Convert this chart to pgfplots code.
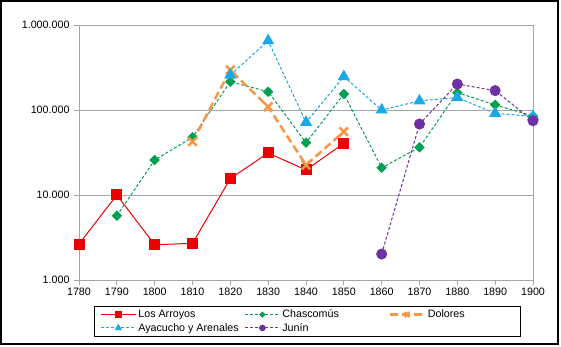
\documentclass[border=0pt]{standalone}
\usepackage{pgfplots}
\pgfplotsset{compat=1.18}
\usepackage{fontspec}
\setmainfont{Liberation Sans}
\definecolor{cred}{HTML}{EE0000}
\definecolor{cgreen}{HTML}{00A050}
\definecolor{corange}{HTML}{F79646}
\definecolor{cblue}{HTML}{1AA8E6}
\definecolor{cpurple}{HTML}{7030A0}
\definecolor{cgrid}{HTML}{A6A6A6}
\newcommand{\legtxt}[1]{\makebox[101pt][l]{#1}}
\begin{document}
\begin{tikzpicture}[x=1pt,y=1pt]
\path (0,0) rectangle (561,347);
\draw[line width=1.5pt] (1,3) rectangle (558,346);
\begin{axis}[
  at={(79pt,67pt)}, anchor=south west,
  scale only axis, width=454pt, height=255pt,
  ymode=log, ymin=1000, ymax=1000000,
  xmin=1780, xmax=1900,
  xtick={1780,1790,...,1900},
  xticklabels={1780,1790,1800,1810,1820,1830,1840,1850,1860,1870,1880,1890,1900},
  ytick={1000,10000,100000,1000000},
  yticklabels={1.000,10.000,100.000,1.000.000},
  minor ytick={}, 
  log basis y=10,
  ymajorgrids, grid style={cgrid, line width=0.8pt},
  axis line style={cgrid, line width=0.8pt},
  tick style={cgrid, line width=0.8pt},
  tick align=outside, tick pos=left, major tick length=5pt,
  ticklabel style={font=\fontsize{10.7}{12}\selectfont, text=black},
  yticklabel style={xshift=-1pt},
  legend columns=3,
  legend style={at={(0.0242,-0.102)}, anchor=north west, xshift=4pt, draw=black, line width=0.8pt,
    font=\fontsize{10.7}{12}\selectfont, inner xsep=6pt, inner ysep=1.5pt, row sep=0pt,
    /tikz/every even column/.append style={column sep=3pt}},
  legend image code/.code={\draw[mark repeat=2,mark phase=2,#1,every mark/.append style={scale=0.55}] plot coordinates {(0pt,0pt) (17.5pt,0pt) (35pt,0pt)};},
]
\addplot[cred, line width=1pt, mark=square*, mark size=5pt, mark options={solid}] coordinates {
(1780,2650)(1790,10000)(1800,2600)(1810,2700)(1820,15600)(1830,31200)(1840,19700)(1850,40500)};
\addlegendentry{\legtxt{Los Arroyos}}
\addplot[cgreen, line width=1pt, dash pattern=on 3pt off 2pt, mark=square*, mark size=3.2pt, mark options={solid, rotate=45}] coordinates {
(1790,5700)(1800,25800)(1810,47700)(1820,215000)(1830,164000)(1840,41200)(1850,154000)(1860,20900)(1870,36400)(1880,160000)(1890,115000)(1900,85000)};
\addlegendentry{\legtxt{Chascomús}}
\addplot[corange, line width=2.5pt, dash pattern=on 8pt off 4pt, mark=x, mark size=6pt, mark options={solid, line width=2.5pt}] coordinates {
(1810,42400)(1820,295000)(1830,109000)(1840,22500)(1850,55600)};
\addlegendentry{\makebox[85pt][l]{Dolores}}
\addplot[cblue, line width=1pt, dash pattern=on 3pt off 2pt, mark=triangle*, mark size=6pt, mark options={solid}] coordinates {
(1820,258000)(1830,653000)(1840,71600)(1850,247000)(1860,100000)(1870,128000)(1880,140000)(1890,91500)(1900,84000)};
\addlegendentry{\legtxt{Ayacucho y Arenales}}
\addplot[cpurple, line width=1pt, dash pattern=on 3pt off 2pt, mark=*, mark size=5pt, mark options={solid}] coordinates {
(1860,2020)(1870,68400)(1880,202000)(1890,169000)(1900,74800)};
\addlegendentry{\legtxt{Junín}}
\end{axis}
\end{tikzpicture}
\end{document}
